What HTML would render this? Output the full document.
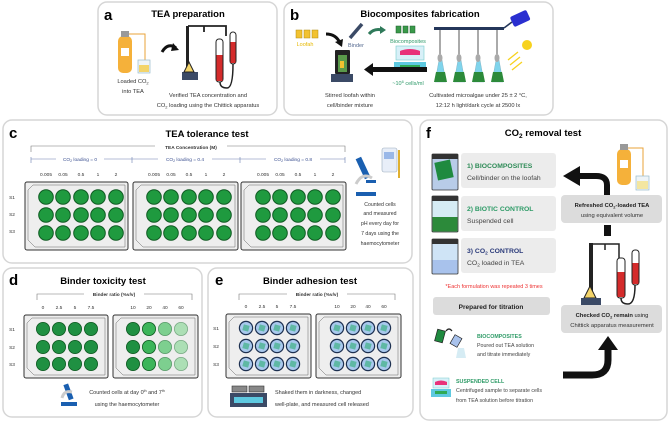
<!DOCTYPE html>
<html><head><meta charset="utf-8"><style>
html,body{margin:0;padding:0;background:#fff;width:669px;height:422px;overflow:hidden}
svg{display:block;font-family:"Liberation Sans",Arial,sans-serif}
</style></head><body>
<svg width="669" height="422" viewBox="0 0 669 422" xmlns="http://www.w3.org/2000/svg">
<defs>
<g id="wg"><circle r="7.3" fill="#1f9a3f" stroke="#0f5a22" stroke-width="1"/></g>
<g id="wb"><circle r="6.6" fill="#a9c9ee" stroke="#1d3050" stroke-width="1.2"/><rect x="-3" y="-3" width="6" height="6" fill="#5fb8a4" transform="rotate(15)"/></g>
</defs>
<!-- panel boxes -->
<g fill="#fff" stroke="#d6d6d6" stroke-width="1.5">
<rect x="98" y="2" width="179" height="113" rx="9"/>
<rect x="284" y="2" width="269" height="113" rx="9"/>
<rect x="3" y="120" width="409" height="143" rx="9"/>
<rect x="3" y="268" width="199" height="149" rx="9"/>
<rect x="208" y="268" width="205" height="149" rx="9"/>
<rect x="420" y="120" width="247" height="300" rx="9"/>
</g>
<!-- ===== a ===== -->
<text x="104" y="20" font-size="15" font-weight="bold">a</text>
<text x="188" y="17" font-size="9.5" font-weight="bold" text-anchor="middle">TEA preparation</text>
<rect x="118" y="36" width="14" height="37" rx="5" fill="#f5b13a"/>
<rect x="121" y="31" width="8" height="6" fill="#999"/>
<rect x="121" y="48" width="8" height="8" fill="#fff"/>
<path d="M129 34 H145 V62" fill="none" stroke="#e9a33a" stroke-width="1"/>
<rect x="138" y="60" width="12" height="13" fill="#eef4f8" stroke="#9bc" stroke-width="0.7"/>
<rect x="139" y="65" width="10" height="7" fill="#f3d46a"/>
<path d="M162 52 Q168 42 176 48" fill="none" stroke="#111" stroke-width="3"/>
<path d="M173 43 L179 50 L171 51 Z" fill="#111"/>
<rect x="186" y="26" width="3" height="48" fill="#222"/>
<path d="M188 26 H226 V36 M204 26 V32" fill="none" stroke="#222" stroke-width="1.8"/>
<rect x="182" y="72" width="16" height="8" fill="#3b4a66"/>
<path d="M184 72 L189 62 L194 72Z" fill="#f3d46a" stroke="#222" stroke-width="1"/>
<rect x="216" y="39" width="7" height="43" rx="3" fill="#fff" stroke="#222" stroke-width="1"/>
<rect x="216.5" y="55" width="6" height="26" fill="#d42b2b"/>
<rect x="230" y="32" width="6" height="32" rx="3" fill="#fff" stroke="#222" stroke-width="1"/>
<rect x="230.5" y="42" width="5" height="21" fill="#d42b2b"/>
<path d="M220 82 Q220 88 227 88 Q233 88 233 64" fill="none" stroke="#222" stroke-width="1.5"/>
<g font-size="5.7" fill="#333" text-anchor="middle">
<text x="133" y="83">Loaded CO<tspan font-size="4" dy="1.5">2</tspan></text>
<text x="133" y="93">into TEA</text>
<text x="208" y="97">Verified TEA concentration and</text>
<text x="208" y="107">CO<tspan font-size="4" dy="1.5">2</tspan><tspan dy="-1.5"> loading using the Chittick apparatus</tspan></text>
</g>
<!-- ===== b ===== -->
<text x="290" y="20" font-size="15" font-weight="bold">b</text>
<text x="420" y="17" font-size="9.5" font-weight="bold" text-anchor="middle">Biocomposites fabrication</text>
<g fill="#f2c230" stroke="#b08a10" stroke-width="0.5"><rect x="296" y="30" width="6" height="8"/><rect x="304" y="30" width="6" height="8"/><rect x="312" y="30" width="6" height="8"/></g>
<text x="305" y="46" font-size="5.5" fill="#e6b800" text-anchor="middle">Loofah</text>
<path d="M326 34 Q336 34 340 43" fill="none" stroke="#111" stroke-width="3"/>
<path d="M335 42 L342 47 L343 39Z" fill="#111"/>
<path d="M350 38 L362 24" stroke="#3b4a66" stroke-width="3.5"/>
<text x="356" y="47" font-size="5.5" fill="#556a90" text-anchor="middle">Binder</text>
<path d="M369 34 Q374 28 382 30" fill="none" stroke="#2f7a5a" stroke-width="3"/>
<path d="M380 26 L386 30 L380 34Z" fill="#2f7a5a"/>
<g fill="#3a9a4a" stroke="#1d5c2c" stroke-width="0.5"><rect x="396" y="26" width="5" height="7"/><rect x="403" y="26" width="5" height="7"/><rect x="410" y="26" width="5" height="7"/></g>
<text x="408" y="43" font-size="5.5" fill="#2f9a6a" text-anchor="middle">Biocomposites</text>
<rect x="335" y="50" width="15" height="24" fill="#222" rx="1"/>
<rect x="338" y="55" width="9" height="17" fill="#5a9a4a"/>
<rect x="340" y="61" width="4" height="7" fill="#f2c230"/>
<rect x="331" y="74" width="22" height="8" fill="#3b4a66"/>
<rect x="396" y="46" width="28" height="14" fill="#d8f0f8" stroke="#7cc" stroke-width="0.6"/>
<path d="M400 51 Q410 47 420 51 V55 H400Z" fill="#e8327a"/>
<rect x="394" y="62" width="32" height="10" fill="#5ec9e0"/>
<rect x="400" y="65" width="20" height="3" fill="#2faa55"/>
<rect x="372" y="67" width="55" height="5" fill="#111"/>
<path d="M364 69.5 L373 63 V76Z" fill="#111"/>
<text x="408" y="85" font-size="5.5" fill="#2f9a6a" text-anchor="middle">~10<tspan font-size="4" dy="-2">6</tspan><tspan dy="2"> cells/ml</tspan></text>
<rect x="434" y="27" width="70" height="3" fill="#24365a"/>
<path d="M504 28 L512 22" stroke="#24365a" stroke-width="1.5"/>
<rect x="511" y="13" width="18" height="11" rx="2" fill="#2a2fd0" transform="rotate(-25 520 18)"/>
<g stroke="#555" stroke-width="1">
<path d="M440 30 V62 M459 30 V62 M478 30 V62 M497 30 V62"/>
</g>
<g fill="#7fd4ec" stroke="#7ab" stroke-width="0.4">
<path d="M435 82 L439 60 H442 L446 82Z"/><path d="M454 82 L458 60 H461 L465 82Z"/><path d="M473 82 L477 60 H480 L484 82Z"/><path d="M492 82 L496 60 H499 L503 82Z"/>
</g>
<g fill="#2c8a3a"><path d="M434 82 L436 72 H445 L447 82Z"/><path d="M453 82 L455 72 H464 L466 82Z"/><path d="M472 82 L474 72 H483 L485 82Z"/><path d="M491 82 L493 72 H502 L504 82Z"/></g>
<g fill="#aaa"><ellipse cx="440" cy="58" rx="2.5" ry="4"/><ellipse cx="459" cy="58" rx="2.5" ry="4"/><ellipse cx="478" cy="58" rx="2.5" ry="4"/><ellipse cx="497" cy="58" rx="2.5" ry="4"/></g>
<circle cx="527" cy="45" r="5" fill="#f7d21e"/>
<g stroke="#f7d21e" stroke-width="1.3"><path d="M508 60 L518 52 M510 65 L520 57 M512 70 L522 62"/></g>
<g font-size="5.7" fill="#333" text-anchor="middle">
<text x="350" y="97">Stirred loofah within</text>
<text x="350" y="107">cell/binder mixture</text>
<text x="478" y="97">Cultivated microalgae under 25 ± 2 °C,</text>
<text x="478" y="107">12:12 h light/dark cycle at 2500 lx</text>
</g>
<!-- ===== c ===== -->
<text x="9" y="138" font-size="15" font-weight="bold">c</text>
<text x="207" y="137" font-size="9.5" font-weight="bold" text-anchor="middle">TEA tolerance test</text>
<path d="M31 152 V146 H345 V152" fill="none" stroke="#777" stroke-width="0.6"/>
<rect x="155" y="144" width="72" height="5" fill="#fff"/>
<text x="191" y="149" font-size="4.8" font-weight="bold" fill="#333" text-anchor="middle">TEA Concentration (M)</text>
<g stroke="#6a7fb0" stroke-width="0.6"><path d="M31 159 H345 M31 157 V163 M132 157 V163 M240 157 V163 M345 157 V163"/></g>
<g font-size="4.8" fill="#3a4f90" text-anchor="middle">
<rect x="56" y="156" width="48" height="6" fill="#fff"/><text x="80" y="161">CO<tspan font-size="3.5" dy="1">2</tspan><tspan dy="-1"> loading = 0</tspan></text>
<rect x="158" y="156" width="54" height="6" fill="#fff"/><text x="185" y="161">CO<tspan font-size="3.5" dy="1">2</tspan><tspan dy="-1"> loading = 0.4</tspan></text>
<rect x="266" y="156" width="54" height="6" fill="#fff"/><text x="293" y="161">CO<tspan font-size="3.5" dy="1">2</tspan><tspan dy="-1"> loading = 0.8</tspan></text>
</g>
<g font-size="4.8" fill="#333" text-anchor="middle">
<text x="46" y="176">0.005</text><text x="63" y="176">0.05</text><text x="81" y="176">0.5</text><text x="98" y="176">1</text><text x="116" y="176">2</text>
<text x="154" y="176">0.005</text><text x="171" y="176">0.05</text><text x="189" y="176">0.5</text><text x="206" y="176">1</text><text x="224" y="176">2</text>
<text x="263" y="176">0.005</text><text x="280" y="176">0.05</text><text x="298" y="176">0.5</text><text x="315" y="176">1</text><text x="333" y="176">2</text>
<text x="12" y="199">S1</text><text x="12" y="216">S2</text><text x="12" y="233">S3</text>
</g>
<g fill="#eee" stroke="#333" stroke-width="1">
<rect x="25" y="182" width="103" height="68" rx="2"/><rect x="133" y="182" width="105" height="68" rx="2"/><rect x="241" y="182" width="105" height="68" rx="2"/>
</g>
<g fill="none" stroke="#666" stroke-width="0.5">
<path d="M33 185 H125 V247 H35 L28 240 V190Z"/><path d="M141 185 H235 V247 H143 L136 240 V190Z"/><path d="M249 185 H343 V247 H251 L244 240 V190Z"/>
</g>
<g>
<use href="#wg" x="46" y="197"/><use href="#wg" x="63" y="197"/><use href="#wg" x="81" y="197"/><use href="#wg" x="98" y="197"/><use href="#wg" x="116" y="197"/>
<use href="#wg" x="46" y="215"/><use href="#wg" x="63" y="215"/><use href="#wg" x="81" y="215"/><use href="#wg" x="98" y="215"/><use href="#wg" x="116" y="215"/>
<use href="#wg" x="46" y="233"/><use href="#wg" x="63" y="233"/><use href="#wg" x="81" y="233"/><use href="#wg" x="98" y="233"/><use href="#wg" x="116" y="233"/>
<use href="#wg" x="154" y="197"/><use href="#wg" x="171" y="197"/><use href="#wg" x="189" y="197"/><use href="#wg" x="206" y="197"/><use href="#wg" x="224" y="197"/>
<use href="#wg" x="154" y="215"/><use href="#wg" x="171" y="215"/><use href="#wg" x="189" y="215"/><use href="#wg" x="206" y="215"/><use href="#wg" x="224" y="215"/>
<use href="#wg" x="154" y="233"/><use href="#wg" x="171" y="233"/><use href="#wg" x="189" y="233"/><use href="#wg" x="206" y="233"/><use href="#wg" x="224" y="233"/>
<use href="#wg" x="263" y="197"/><use href="#wg" x="280" y="197"/><use href="#wg" x="298" y="197"/><use href="#wg" x="315" y="197"/><use href="#wg" x="333" y="197"/>
<use href="#wg" x="263" y="215"/><use href="#wg" x="280" y="215"/><use href="#wg" x="298" y="215"/><use href="#wg" x="315" y="215"/><use href="#wg" x="333" y="215"/>
<use href="#wg" x="263" y="233"/><use href="#wg" x="280" y="233"/><use href="#wg" x="298" y="233"/><use href="#wg" x="315" y="233"/><use href="#wg" x="333" y="233"/>
</g>
<!-- microscope c -->
<rect x="360" y="157" width="6" height="22" fill="#1a5fb0" transform="rotate(-25 363 168)"/>
<path d="M356 184 Q362 172 372 178" fill="none" stroke="#ccc" stroke-width="3"/>
<rect x="356" y="192" width="20" height="4" fill="#1a5fb0"/>
<rect x="366" y="180" width="10" height="3" fill="#1a5fb0"/>
<rect x="382" y="148" width="15" height="24" rx="2" fill="#e8eef8" stroke="#9ab" stroke-width="0.6"/>
<rect x="384" y="152" width="10" height="7" fill="#9ab8e8"/>
<rect x="398" y="150" width="2" height="28" fill="#e0b030"/>
<g font-size="5.2" fill="#333" text-anchor="middle">
<text x="380" y="206">Counted cells</text><text x="380" y="215">and measured</text><text x="380" y="225">pH every day for</text><text x="380" y="235">7 days using the</text><text x="380" y="245">haemocytometer</text>
</g>
<!-- ===== d ===== -->
<text x="9" y="285" font-size="15" font-weight="bold">d</text>
<text x="103" y="284" font-size="9.5" font-weight="bold" text-anchor="middle">Binder toxicity test</text>
<path d="M37 300 V294 H192 V300" fill="none" stroke="#777" stroke-width="0.6"/>
<rect x="84" y="291" width="60" height="6" fill="#fff"/>
<text x="114" y="296" font-size="4.8" font-weight="bold" fill="#333" text-anchor="middle">Binder ratio (%v/v)</text>
<g font-size="4.8" fill="#333" text-anchor="middle">
<text x="43" y="309">0</text><text x="59" y="309">2.5</text><text x="75" y="309">5</text><text x="91" y="309">7.5</text>
<text x="133" y="309">10</text><text x="149" y="309">20</text><text x="165" y="309">40</text><text x="181" y="309">60</text>
<text x="12" y="331">S1</text><text x="12" y="349">S2</text><text x="12" y="366">S3</text>
</g>
<g fill="#eee" stroke="#333" stroke-width="1"><rect x="24" y="315" width="84" height="63" rx="2"/><rect x="113" y="315" width="85" height="63" rx="2"/></g>
<g fill="none" stroke="#666" stroke-width="0.5"><path d="M32 318 H105 V375 H34 L27 368 V323Z"/><path d="M121 318 H195 V375 H123 L116 368 V323Z"/></g>
<g stroke="#0f5a22" stroke-width="0.8">
<g fill="#1f9042"><circle cx="43" cy="329" r="6.6"/><circle cx="59" cy="329" r="6.6"/><circle cx="75" cy="329" r="6.6"/><circle cx="91" cy="329" r="6.6"/><circle cx="43" cy="347" r="6.6"/><circle cx="59" cy="347" r="6.6"/><circle cx="75" cy="347" r="6.6"/><circle cx="91" cy="347" r="6.6"/><circle cx="43" cy="364" r="6.6"/><circle cx="59" cy="364" r="6.6"/><circle cx="75" cy="364" r="6.6"/><circle cx="91" cy="364" r="6.6"/><circle cx="133" cy="329" r="6.6"/><circle cx="133" cy="347" r="6.6"/><circle cx="133" cy="364" r="6.6"/></g>
<g fill="#3cb55a"><circle cx="149" cy="329" r="6.6"/><circle cx="149" cy="347" r="6.6"/><circle cx="149" cy="364" r="6.6"/></g>
<g fill="#7dcf8f" stroke="#5a9a6a"><circle cx="165" cy="329" r="6.6"/><circle cx="165" cy="347" r="6.6"/><circle cx="165" cy="364" r="6.6"/></g>
<g fill="#acdfb5" stroke="#7aaa85"><circle cx="181" cy="329" r="6.6"/><circle cx="181" cy="347" r="6.6"/><circle cx="181" cy="364" r="6.6"/></g>
</g>
<rect x="66" y="384" width="5" height="16" fill="#1a5fb0" transform="rotate(-20 68 392)"/>
<path d="M62 398 Q64 390 72 392" fill="none" stroke="#ccc" stroke-width="3"/>
<rect x="61" y="402" width="16" height="4" fill="#1a5fb0"/>
<g font-size="5.5" fill="#333" text-anchor="middle">
<text x="127" y="394">Counted cells at day 0<tspan font-size="3.5" dy="-2">th</tspan><tspan dy="2"> and 7</tspan><tspan font-size="3.5" dy="-2">th</tspan></text>
<text x="127" y="406">using the haemocytometer</text>
</g>
<!-- ===== e ===== -->
<text x="215" y="285" font-size="15" font-weight="bold">e</text>
<text x="310" y="284" font-size="9.5" font-weight="bold" text-anchor="middle">Binder adhesion test</text>
<path d="M239 300 V294 H395 V300" fill="none" stroke="#777" stroke-width="0.6"/>
<rect x="287" y="291" width="60" height="6" fill="#fff"/>
<text x="317" y="296" font-size="4.8" font-weight="bold" fill="#333" text-anchor="middle">Binder ratio (%v/v)</text>
<g font-size="4.8" fill="#333" text-anchor="middle">
<text x="246" y="308">0</text><text x="262" y="308">2.5</text><text x="277" y="308">5</text><text x="293" y="308">7.5</text>
<text x="337" y="308">10</text><text x="353" y="308">20</text><text x="368" y="308">40</text><text x="384" y="308">60</text>
<text x="216" y="330">S1</text><text x="216" y="348">S2</text><text x="216" y="366">S3</text>
</g>
<g fill="#eee" stroke="#333" stroke-width="1"><rect x="226" y="314" width="85" height="64" rx="2"/><rect x="316" y="314" width="85" height="64" rx="2"/></g>
<g fill="none" stroke="#666" stroke-width="0.5"><path d="M234 317 H308 V375 H236 L229 368 V322Z"/><path d="M324 317 H398 V375 H326 L319 368 V322Z"/></g>
<g>
<use href="#wb" x="246" y="328"/><use href="#wb" x="262" y="328"/><use href="#wb" x="277" y="328"/><use href="#wb" x="293" y="328"/>
<use href="#wb" x="246" y="346"/><use href="#wb" x="262" y="346"/><use href="#wb" x="277" y="346"/><use href="#wb" x="293" y="346"/>
<use href="#wb" x="246" y="364"/><use href="#wb" x="262" y="364"/><use href="#wb" x="277" y="364"/><use href="#wb" x="293" y="364"/>
<use href="#wb" x="337" y="328"/><use href="#wb" x="353" y="328"/><use href="#wb" x="368" y="328"/><use href="#wb" x="384" y="328"/>
<use href="#wb" x="337" y="346"/><use href="#wb" x="353" y="346"/><use href="#wb" x="368" y="346"/><use href="#wb" x="384" y="346"/>
<use href="#wb" x="337" y="364"/><use href="#wb" x="353" y="364"/><use href="#wb" x="368" y="364"/><use href="#wb" x="384" y="364"/>
</g>
<rect x="232" y="386" width="15" height="6" fill="#888" stroke="#333" stroke-width="0.6"/><rect x="249" y="386" width="15" height="6" fill="#888" stroke="#333" stroke-width="0.6"/>
<rect x="230" y="393" width="37" height="14" fill="#3b4a66"/>
<rect x="234" y="397" width="29" height="6" fill="#5ec9e0"/>
<g font-size="5.5" fill="#333">
<text x="275" y="394">Shaked them in darkness, changed</text>
<text x="275" y="406">well-plate, and measured cell released</text>
</g>
<!-- ===== f ===== -->
<text x="426" y="138" font-size="15" font-weight="bold">f</text>
<text x="543" y="136" font-size="9.5" font-weight="bold" text-anchor="middle">CO<tspan font-size="6.5" dy="2">2</tspan><tspan dy="-2"> removal test</tspan></text>
<g fill="#ececec"><rect x="461" y="153" width="95" height="35" rx="3"/><rect x="461" y="196" width="95" height="35" rx="3"/><rect x="461" y="238" width="95" height="35" rx="3"/></g>
<!-- jars -->
<g>
<rect x="432" y="154" width="26" height="36" rx="1" fill="#b8cce8" stroke="#333" stroke-width="0.8"/><rect x="432" y="154" width="26" height="5" fill="#333"/>
<rect x="436" y="161" width="16" height="18" fill="#1f8a3f" transform="rotate(-12 444 170)"/>
<rect x="432" y="196" width="26" height="36" rx="1" fill="#d6ecf4" stroke="#333" stroke-width="0.8"/><rect x="432" y="196" width="26" height="5" fill="#333"/>
<rect x="432.5" y="217" width="25" height="14.5" fill="#2c8a3a"/>
<rect x="432" y="239" width="26" height="35" rx="1" fill="#cfe4f6" stroke="#333" stroke-width="0.8"/><rect x="432" y="239" width="26" height="5" fill="#333"/>
<rect x="432.5" y="260" width="25" height="13.5" fill="#a8c2ec"/>
</g>
<g font-size="6.8">
<text x="467" y="168" font-weight="bold" fill="#2e8b57">1) BIOCOMPOSITES</text>
<text x="467" y="180" fill="#444">Cell/binder on the loofah</text>
<text x="467" y="211" font-weight="bold" fill="#2e9b67">2) BIOTIC CONTROL</text>
<text x="467" y="223" fill="#444">Suspended cell</text>
<text x="467" y="253" font-weight="bold" fill="#2a3a7a">3) CO<tspan font-size="4.8" dy="1.5">2</tspan><tspan dy="-1.5"> CONTROL</tspan></text>
<text x="467" y="265" fill="#444">CO<tspan font-size="4.8" dy="1.5">2</tspan><tspan dy="-1.5"> loaded in TEA</tspan></text>
</g>
<text x="494" y="288" font-size="5.5" fill="#ee3333" text-anchor="middle">*Each formulation was repeated 3 times</text>
<rect x="433" y="297" width="117" height="18" rx="3" fill="#dcdcdc"/>
<text x="491" y="309" font-size="6.5" font-weight="bold" fill="#222" text-anchor="middle">Prepared for titration</text>
<rect x="436" y="330" width="8" height="12" fill="#1f8a3f" stroke="#222" stroke-width="0.7" transform="rotate(15 440 336)"/>
<path d="M446 331 Q449 327 452 331" fill="none" stroke="#222" stroke-width="1.2"/>
<rect x="452" y="336" width="8" height="10" fill="#a8c2ec" stroke="#222" stroke-width="0.7" transform="rotate(30 456 341)"/>
<path d="M458 348 L456 358 H466 L464 348Z" fill="#d6ecf4"/>
<g font-size="5.3" fill="#444">
<text x="477" y="338" font-weight="bold" fill="#2e9b67">BIOCOMPOSITES</text>
<text x="477" y="347">Poured out TEA solution</text>
<text x="477" y="356">and titrate immediately</text>
<text x="456" y="383" font-weight="bold" fill="#2e9b67">SUSPENDED CELL</text>
<text x="456" y="392">Centrifuged sample to separate cells</text>
<text x="456" y="402">from TEA solution before titration</text>
</g>
<rect x="433" y="378" width="16" height="10" fill="#d8f0f8" stroke="#7cc" stroke-width="0.5"/>
<path d="M435 382 Q441 379 447 382 V385 H435Z" fill="#e8327a"/>
<rect x="431" y="389" width="20" height="8" fill="#5ec9e0"/><rect x="435" y="391" width="12" height="3" fill="#2faa55"/>
<!-- right side f -->
<rect x="617" y="149" width="14" height="36" rx="5" fill="#f5b13a"/>
<rect x="620" y="144" width="8" height="6" fill="#999"/>
<rect x="620" y="160" width="8" height="8" fill="#fff"/>
<path d="M628 148 H643 V176" fill="none" stroke="#e9a33a" stroke-width="1"/>
<rect x="636" y="176" width="13" height="14" fill="#eef4f8" stroke="#9bc" stroke-width="0.7"/>
<rect x="637" y="181" width="11" height="8" fill="#f3e6a0"/>
<path d="M607 196 V185 Q607 176 596 176 H580" fill="none" stroke="#111" stroke-width="6"/>
<path d="M563 176 L580 166 V186Z" fill="#111"/>
<rect x="561" y="195" width="101" height="28" rx="4" fill="#dcdcdc"/>
<text x="612" y="207" font-size="5.8" font-weight="bold" fill="#222" text-anchor="middle">Refreshed CO<tspan font-size="4" dy="1.5">2</tspan><tspan dy="-1.5">-loaded TEA</tspan></text>
<text x="612" y="217" font-size="5.8" fill="#333" text-anchor="middle">using equivalent volume</text>
<rect x="604" y="225" width="7" height="11" fill="#111"/>
<rect x="589" y="243" width="4" height="56" fill="#222"/>
<path d="M591 244 H619 V258 M605 244 V250" fill="none" stroke="#222" stroke-width="1.5"/>
<rect x="617" y="258" width="8" height="40" rx="3" fill="#fff" stroke="#222" stroke-width="1"/>
<rect x="617.5" y="272" width="7" height="25" fill="#d42b2b"/>
<rect x="632" y="250" width="7" height="35" rx="3" fill="#fff" stroke="#222" stroke-width="1"/>
<rect x="632.5" y="263" width="6" height="21" fill="#d42b2b"/>
<path d="M621 298 Q621 304 628 304 Q635 304 635 285" fill="none" stroke="#222" stroke-width="1.5"/>
<path d="M584 298 L590 286 L596 298Z" fill="#f3d46a" stroke="#222" stroke-width="1"/>
<rect x="581" y="298" width="20" height="9" fill="#3b4a66"/>
<rect x="561" y="305" width="101" height="28" rx="4" fill="#dcdcdc"/>
<text x="612" y="317" font-size="5.8" fill="#222" text-anchor="middle"><tspan font-weight="bold">Checked CO<tspan font-size="4" dy="1.5">2</tspan><tspan dy="-1.5"> remain</tspan></tspan> using</text>
<text x="612" y="327" font-size="5.8" fill="#333" text-anchor="middle">Chittick apparatus measurement</text>
<path d="M563 375 H592 Q608 375 608 360 V348" fill="none" stroke="#111" stroke-width="7"/>
<path d="M598 350 L608 336 L618 350Z" fill="#111"/>
</svg>
</body></html>
